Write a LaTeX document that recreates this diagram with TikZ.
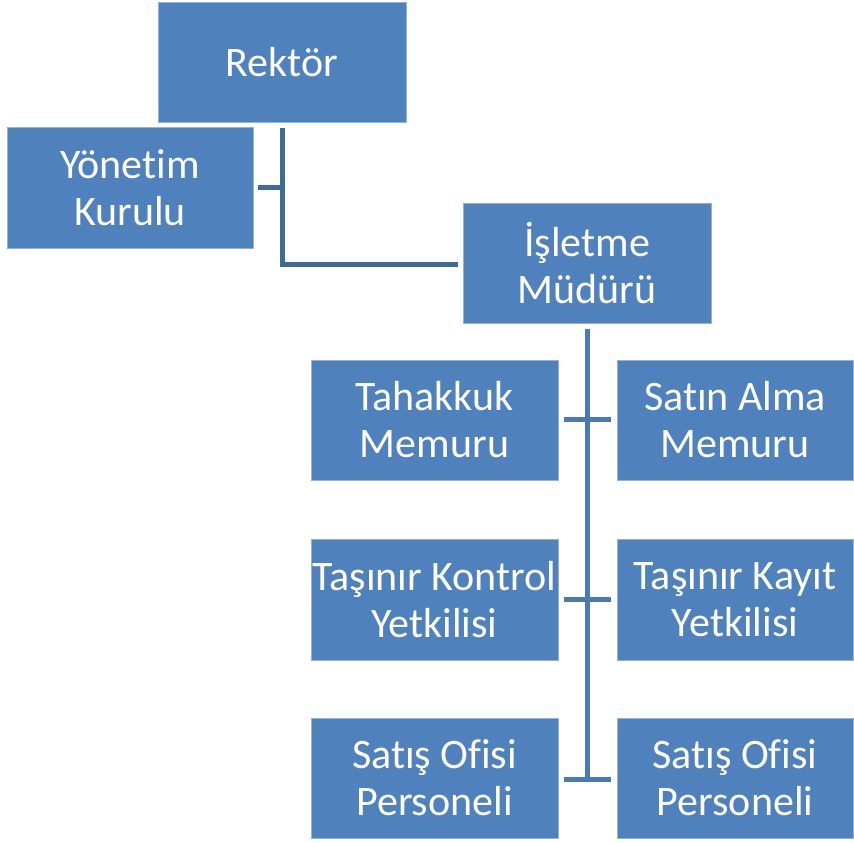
\documentclass[tikz,border=0pt]{standalone}
\usepackage{fontspec}
\setmainfont[Ligatures={NoCommon}]{Carlito}
\usetikzlibrary{calc}
\definecolor{boxblue}{HTML}{4F81BD}
\definecolor{connA}{HTML}{3F6A9A}
\definecolor{connB}{HTML}{4A79B3}
\tikzset{
  box/.style={rectangle, fill=boxblue, draw=boxblue!60!white, line width=0.6pt, text=white,
    minimum width=248pt, minimum height=120pt, align=center, inner sep=0pt,
    font=\fontsize{42}{47}\selectfont},
  conn/.style={line width=5pt},
}
\begin{document}
\begin{tikzpicture}[x=1pt,y=1pt]
\useasboundingbox (0,0) rectangle (854,843);
\node[box] (rektor) at (282,781) {Rektör};
\node[box, minimum width=246pt, minimum height=121pt] (yonetim) at (130,655.5) {Yönetim\\Kurulu};
\node[box] (isletme) at (587,580) {İşletme\\Müdürü};
\node[box, minimum width=247pt] (tahakkuk) at (434.5,423) {Tahakkuk\\Memuru};
\node[box, minimum width=236pt] (satin) at (735,423) {Satın Alma\\Memuru};
\node[box, minimum width=247pt, minimum height=121pt] (kontrol) at (434.5,243.5) {Taşınır Kontrol\\Yetkilisi};
\node[box, minimum width=236pt, minimum height=121pt] (kayit) at (735,243.5) {Taşınır Kayıt\\Yetkilisi};
\node[box, minimum width=247pt] (satis1) at (434.5,65) {Satış Ofisi\\Personeli};
\node[box, minimum width=236pt] (satis2) at (735,65) {Satış Ofisi\\Personeli};
% connectors
\draw[conn, connA] ($(rektor.south)+(0,-6)$) |- ($(isletme.west)+(-5,-2)$);
\draw[conn, connA] ($(yonetim.east)+(5,0)$) -- (rektor.south |- yonetim.east);
\draw[conn, connB] ($(isletme.south)+(0,-6)$) -- ($(isletme.south |- satis1.east)+(0,-2.5)$);
\draw[conn, connB] ($(tahakkuk.east)+(6,0)$) -- ($(satin.west)+(-6,0)$);
\draw[conn, connB] ($(kontrol.east)+(6,0)$) -- ($(kayit.west)+(-6,0)$);
\draw[conn, connB] ($(satis1.east)+(6,-2)$) -- ($(satis2.west)+(-6,-2)$);
\end{tikzpicture}
\end{document}
